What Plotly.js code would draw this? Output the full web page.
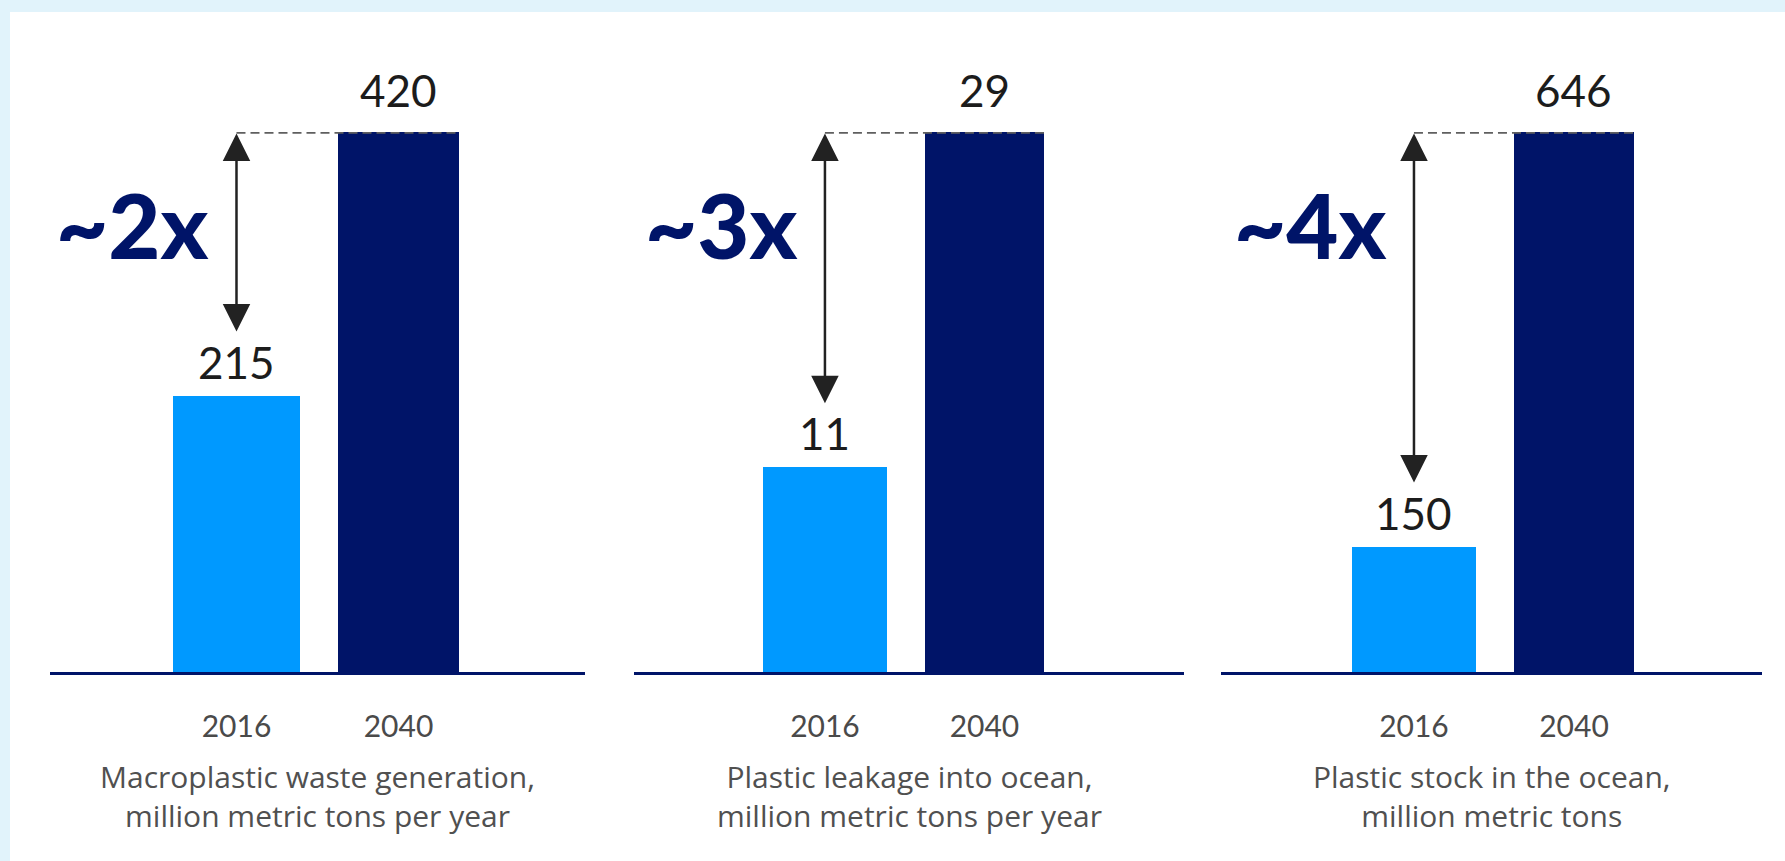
<!DOCTYPE html>
<html>
<head>
<meta charset="utf-8">
<script src="https://cdn.plot.ly/plotly-3.0.1.min.js"></script>
<style>
  html, body { margin: 0; padding: 0; background: #E1F3FB; }
  #chart { width: 1785px; height: 861px; }
</style>
</head>
<body>
<div id="chart"></div>
<script>
// ---- Data ----
const categories = ['2016', '2040'];
const values2016 = [215, 11, 150];
const values2040 = [420, 29, 646];
const multipliers = ['~2x', '~3x', '~4x'];
const captions = [
  'Macroplastic waste generation,<br>million metric tons per year',
  'Plastic leakage into ocean,<br>million metric tons per year',
  'Plastic stock in the ocean,<br>million metric tons'
];

// ---- Style / geometry ----
const W = 1785, H = 861;
const NAVY = '#001468';
const LIGHT = '#0099FF';
const TEXT = '#1c1c1c';
const GREY = '#4a4a4a';
const FONT = 'Lato, "Open Sans", "DejaVu Sans", sans-serif';
const CAPFONT = '"Open Sans", Lato, "DejaVu Sans", sans-serif';
const axisPx = [[50, 585], [634, 1184], [1221, 1762]];
const xRanges = [[-1.151, 2.151], [-1.197, 2.251], [-1.206, 2.175]];
const widthLight = 0.78, widthDark = 0.75;
const yBottom = 1 - 672 / H, yTop = 1 - 132 / H;

const traces = [];
const layout = {
  width: W, height: H,
  margin: {l: 0, r: 0, t: 0, b: 0},
  paper_bgcolor: '#E1F3FB',
  plot_bgcolor: 'rgba(0,0,0,0)',
  font: {family: FONT, color: GREY},
  showlegend: false,
  bargap: 0,
  annotations: [],
  shapes: [
    {type: 'rect', xref: 'paper', yref: 'paper', x0: 10 / W, x1: 1, y0: 0, y1: 1 - 12 / H,
     fillcolor: '#ffffff', line: {width: 0}, layer: 'below'}
  ]
};

for (let i = 0; i < 3; i++) {
  const n = i === 0 ? '' : String(i + 1);
  const xa = 'x' + n, ya = 'y' + n;
  traces.push({
    type: 'bar',
    x: categories,
    y: [values2016[i], values2040[i]],
    width: [widthLight, widthDark],
    marker: {color: [LIGHT, NAVY], line: {width: 0}},
    xaxis: xa, yaxis: ya,
    hoverinfo: 'skip'
  });
  layout['xaxis' + n] = {
    domain: [axisPx[i][0] / W, axisPx[i][1] / W],
    anchor: ya,
    type: 'category',
    range: xRanges[i],
    showgrid: false, zeroline: false,
    showline: true, linecolor: NAVY, linewidth: 3,
    ticks: '', ticklabelstandoff: 26,
    tickfont: {family: FONT, size: 30, color: GREY},
    fixedrange: true
  };
  layout['yaxis' + n] = {
    domain: [yBottom, yTop],
    anchor: xa,
    range: [0, values2040[i]],
    visible: false,
    fixedrange: true
  };
  // dashed reference line at 2040 level
  layout.shapes.push({
    type: 'line', xref: xa, yref: ya, layer: 'above',
    x0: 0, x1: 1 + widthDark / 2, y0: values2040[i], y1: values2040[i],
    line: {color: '#5f5f5f', width: 3.5, dash: '9px,5px'}
  });
  // double-headed arrow
  layout.annotations.push({
    xref: xa, yref: ya, axref: xa, ayref: ya,
    x: 0, y: values2016[i], ax: 0, ay: values2040[i],
    text: '', showarrow: true,
    arrowhead: 2, startarrowhead: 2, arrowside: 'end+start',
    arrowwidth: 2.5, arrowsize: 2.2, startarrowsize: 2.2,
    arrowcolor: '#222222',
    standoff: 64, startstandoff: 0
  });
  // value labels
  layout.annotations.push({
    xref: xa, yref: ya, x: 0, y: values2016[i], yanchor: 'middle', yshift: 34,
    text: String(values2016[i]), showarrow: false,
    font: {family: FONT, size: 44, color: TEXT}
  });
  layout.annotations.push({
    xref: xa, yref: ya, x: 1, y: values2040[i], yanchor: 'middle', yshift: 42,
    text: String(values2040[i]), showarrow: false,
    font: {family: FONT, size: 44, color: TEXT}
  });
  // multiplier text
  layout.annotations.push({
    xref: xa, yref: 'paper', x: 0, y: 1 - 224 / H,
    xanchor: 'right', yanchor: 'middle', xshift: -26,
    text: multipliers[i], showarrow: false,
    font: {family: FONT, size: 90, color: NAVY, weight: 900}
  });
  // caption
  layout.annotations.push({
    xref: xa + ' domain', yref: 'paper', x: 0.5, y: 1 - 796 / H,
    xanchor: 'center', yanchor: 'middle',
    text: captions[i], showarrow: false,
    font: {family: CAPFONT, size: 30, color: '#505050'}
  });
}

Plotly.newPlot('chart', traces, layout, {displayModeBar: false, staticPlot: true});
</script>
</body>
</html>
